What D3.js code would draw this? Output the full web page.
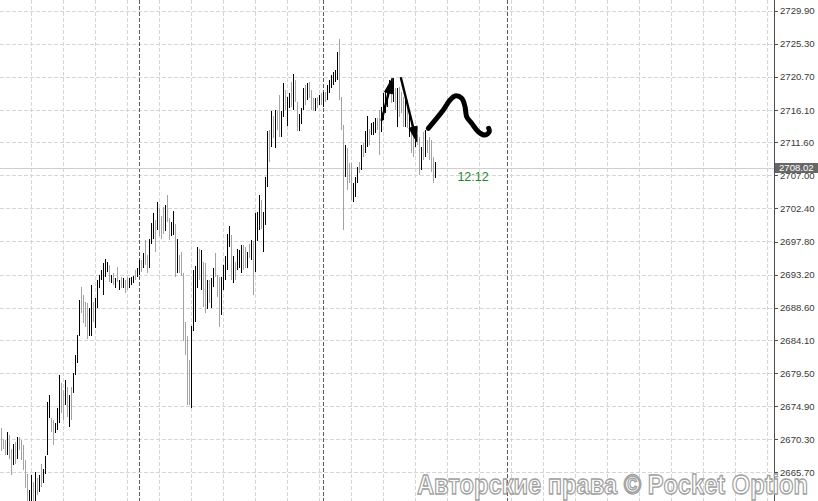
<!DOCTYPE html>
<html>
<head>
<meta charset="utf-8">
<script src="https://cdn.jsdelivr.net/npm/d3@7"></script>
<style>
html,body{margin:0;padding:0;background:#fff;overflow:hidden;}
svg{display:block;}
</style>
</head>
<body>
<script>
// ---- data (M15 bars: high, low, direction 1=up/black 0=down/gray) ----
const highs = [
2671.8,2670.4,2670.2,2671.3,2670.9,2669.0,2669.6,2669.9,2670.6,2670.6,
2670.2,2669.5,2667.4,2665.5,2663.2,2665.3,2664.4,2665.8,2664.9,2665.3,
2666.9,2666.2,2667.9,2675.5,2676.4,2673.2,2673.0,2672.5,2674.6,2679.2,
2678.1,2677.1,2678.5,2677.6,2676.4,2677.6,2679.5,2682.0,2684.8,2689.7,
2691.5,2690.4,2689.4,2689.2,2688.5,2691.7,2689.4,2689.9,2692.4,2693.1,
2693.8,2694.8,2695.3,2695.0,2694.5,2693.1,2693.4,2692.7,2694.3,2692.4,
2692.9,2692.7,2692.4,2692.9,2692.7,2692.9,2693.0,2693.8,2694.1,2695.2,
2695.2,2696.2,2698.0,2695.9,2698.2,2700.4,2701.7,2700.8,2703.3,2702.4,
2701.3,2702.6,2702.9,2704.3,2701.1,2700.5,2702.0,2700.3,2698.2,2695.9,
2696.4,2693.4,2686.6,2684.6,2681.3,2686.0,2693.8,2694.4,2697.1,2696.8,
2696.6,2695.0,2694.8,2692.5,2692.4,2692.7,2694.1,2696.2,2693.1,2692.9,
2692.9,2694.5,2695.8,2698.9,2699.9,2698.7,2695.8,2695.0,2696.8,2696.6,
2697.3,2697.3,2697.1,2696.4,2697.5,2698.0,2697.8,2701.7,2701.9,2704.3,
2703.6,2701.9,2706.8,2713.2,2713.3,2715.9,2715.2,2716.1,2716.0,2718.2,
2715.9,2719.9,2718.9,2717.9,2718.5,2720.0,2721.1,2720.3,2717.2,2715.6,
2716.3,2719.1,2719.6,2719.8,2720.0,2718.9,2717.7,2717.7,2717.9,2718.2,
2718.4,2718.6,2718.6,2719.6,2720.3,2721.0,2721.4,2721.7,2724.2,2725.9,
2717.9,2714.0,2711.2,2710.8,2708.7,2708.7,2705.9,2706.8,2708.2,2708.9,
2711.2,2711.5,2713.1,2715.2,2713.5,2714.3,2714.4,2715.0,2715.0,2716.1,
2716.5,2718.4,2718.9,2719.3,2720.3,2720.5,2720.5,2719.1,2719.1,2719.3,
2718.6,2717.9,2717.5,2717.5,2715.4,2714.3,2713.7,2712.9,2712.6,2712.3,
2710.9,2713.0,2713.3,2711.9,2712.3,2711.9,2709.5,2708.9
];
const lows = [
2668.6,2669.0,2668.1,2668.1,2667.6,2665.3,2666.7,2666.9,2667.6,2668.8,
2667.4,2666.0,2663.5,2661.5,2661.5,2661.5,2661.5,2661.5,2662.5,2663.0,
2663.7,2664.2,2665.5,2668.1,2673.2,2671.3,2669.5,2671.1,2671.6,2672.5,
2673.9,2673.0,2675.1,2673.4,2672.0,2673.0,2676.7,2679.2,2680.9,2684.6,
2687.8,2686.4,2685.9,2684.3,2684.6,2684.6,2686.6,2685.7,2688.5,2691.3,
2692.4,2690.4,2692.9,2693.6,2692.2,2692.0,2691.7,2691.3,2692.2,2691.1,
2691.3,2691.3,2690.6,2691.1,2691.3,2691.7,2692.0,2692.4,2692.9,2693.1,
2693.6,2694.1,2694.5,2693.4,2694.1,2697.5,2698.2,2696.4,2699.4,2698.5,
2698.1,2698.9,2699.2,2700.5,2698.0,2698.5,2698.7,2692.8,2693.4,2693.4,
2693.0,2683.9,2682.0,2675.1,2675.1,2674.6,2685.3,2686.6,2691.3,2692.4,
2691.1,2688.7,2687.8,2688.4,2689.2,2688.5,2691.5,2692.9,2690.1,2685.9,
2687.6,2691.1,2692.4,2693.8,2697.1,2692.4,2692.0,2692.4,2693.8,2694.1,
2693.4,2693.8,2694.1,2694.1,2695.5,2695.2,2690.4,2693.6,2697.8,2699.4,
2699.6,2696.4,2700.1,2705.4,2708.9,2711.0,2712.2,2710.8,2713.3,2712.4,
2712.4,2715.1,2716.1,2713.8,2716.3,2716.5,2716.1,2717.2,2713.1,2713.1,
2714.2,2716.1,2716.8,2717.5,2717.7,2716.1,2716.1,2715.9,2716.3,2716.8,
2716.8,2716.5,2717.2,2717.5,2718.4,2719.1,2719.6,2720.0,2720.3,2717.5,
2713.3,2699.4,2706.8,2705.0,2705.9,2703.6,2703.3,2704.0,2705.9,2707.3,
2707.7,2709.6,2710.1,2711.0,2711.2,2712.6,2712.6,2712.9,2713.3,2709.8,
2713.0,2714.7,2715.7,2716.5,2718.6,2717.1,2717.2,2716.1,2713.7,2715.1,
2715.7,2713.7,2713.7,2713.6,2712.3,2710.1,2709.5,2710.9,2711.2,2707.0,
2707.7,2709.1,2709.5,2710.1,2709.1,2707.5,2705.9,2706.6
];
const direction = [
0,0,0,1,0,0,1,0,1,0, 0,0,0,0,1,1,0,1,0,1, 0,1,1,1,1,0,0,1,1,1,
0,0,1,0,1,0,1,1,1,1, 0,0,0,0,1,1,0,1,1,1, 1,1,1,1,0,1,0,1,0,1,
0,1,0,0,1,1,1,0,1,1, 0,1,0,0,1,1,1,0,1,0, 0,0,1,0,0,1,1,0,1,0,
0,0,0,0,0,1,1,1,1,0, 1,0,0,1,0,1,1,0,0,0, 1,1,1,1,1,0,1,0,1,1,
1,0,0,1,0,1,0,1,1,1, 0,1,1,1,0,1,0,1,0,0, 1,1,0,1,1,0,1,0,0,1,
1,1,0,1,0,0,0,1,0,1, 0,1,0,1,1,1,1,1,1,0, 0,0,1,0,0,0,1,1,1,0,
1,0,1,1,0,1,1,1,0,0, 1,1,1,1,1,0,1,0,1,0, 0,0,1,0,1,0,0,1,0,0,
1,0,1,0,0,0,0,1
];
const priceTicks = ["2729.90","2725.30","2720.70","2716.10","2711.60","2707.00","2702.40",
  "2697.80","2693.20","2688.60","2684.10","2679.50","2674.90","2670.30","2665.70"];
const currentPrice = 2708.02;
const timerLabel = "12:12";
const gridEvery = 16, gridFirst = 15;          // time grid every 16 bars (4h)
const daySeparators = [69, 161, 253];           // bar indexes of day starts
const watermark = "Авторские права © Pocket Option";
// hand-drawn annotations, in (bar index, price)
const arrowUp = [[190.35, 2714.7], [195.65, 2720.5]];
const arrowDown = [[200.0, 2720.5], [207.85, 2711.68]];
const squiggle = [[213.65,2713.54],[221.15,2716.09],[224.5,2717.48],[227,2718.04],[230.35,2717.72],
  [232,2716.55],[232.85,2715.16],[235.35,2714.24],[238.65,2713.07],[242,2712.61],[244.15,2713.07],[243.85,2713.54]];

// ---- drawing ----
const W = 818, H = 501, axisX = 774;
const svg = d3.select("body").append("svg").attr("width", W).attr("height", H);
svg.append("rect").attr("width", W).attr("height", H).attr("fill", "#fff");

const y = d3.scaleLinear().domain([2665.70, 2729.90]).range([472.3, 10.7]);
const x = d3.scaleLinear().domain([0, highs.length - 1]).range([1, 1 + 2 * (highs.length - 1)]);

// grid
const g = svg.append("g").attr("shape-rendering", "crispEdges");
priceTicks.forEach(t => {
  const yy = Math.round(y(+t)) + 0.5;
  g.append("line").attr("x1", 0).attr("x2", axisX).attr("y1", yy).attr("y2", yy)
    .attr("stroke", "#d6d6d6").attr("stroke-dasharray", "4,2");
});
for (let k = gridFirst; x(k) < axisX; k += gridEvery) {
  const xx = Math.round(x(k)) + 0.5;
  g.append("line").attr("x1", xx).attr("x2", xx).attr("y1", 0).attr("y2", H)
    .attr("stroke", "#d6d6d6").attr("stroke-dasharray", "4,2");
}
daySeparators.forEach(k => {
  const xx = Math.round(x(k)) + 0.5;
  g.append("line").attr("x1", xx).attr("x2", xx).attr("y1", 0).attr("y2", H)
    .attr("stroke", "#5a5a5a").attr("stroke-dasharray", "4,2");
});

// current price line
const py = Math.round(y(currentPrice)) + 0.5;
g.append("line").attr("x1", 0).attr("x2", axisX).attr("y1", py).attr("y2", py).attr("stroke", "#cfcfcf");

// bars
svg.append("g").attr("shape-rendering", "crispEdges")
  .selectAll("rect").data(highs.map((h, i) => ({h, l: lows[i], d: direction[i], i})))
  .join("rect")
  .attr("x", d => Math.round(x(d.i)))
  .attr("width", 1)
  .attr("y", d => Math.round(y(d.h)))
  .attr("height", d => Math.max(1, Math.round(y(d.l)) - Math.round(y(d.h))))
  .attr("fill", d => d.d ? "#000" : "#a3a3a3");

// annotations
const ann = svg.append("g");
const line = d3.line().x(d => x(d[0])).y(d => y(d[1]));
function arrow(pts) {
  const [a, b] = pts.map(p => [x(p[0]), y(p[1])]);
  const dx = b[0] - a[0], dy = b[1] - a[1], len = Math.hypot(dx, dy);
  const ux = dx / len, uy = dy / len, hl = 15, hw = 4.2;
  const bx = b[0] - ux * hl, by = b[1] - uy * hl;
  ann.append("line").attr("x1", a[0]).attr("y1", a[1]).attr("x2", bx + ux * 3).attr("y2", by + uy * 3)
    .attr("stroke", "#000").attr("stroke-width", 2.4).attr("stroke-linecap", "round");
  ann.append("path").attr("d", `M${b[0]},${b[1]}L${bx - uy * hw},${by + ux * hw}L${bx + uy * hw},${by - ux * hw}Z`)
    .attr("fill", "#000").attr("stroke", "#000").attr("stroke-width", 1).attr("stroke-linejoin", "round");
}
arrow(arrowUp);
arrow(arrowDown);
ann.append("path").attr("d", line.curve(d3.curveCatmullRom)(squiggle))
  .attr("fill", "none").attr("stroke", "#000").attr("stroke-width", 5)
  .attr("stroke-linecap", "round").attr("stroke-linejoin", "round");

// timer label
svg.append("text").attr("x", x(highs.length - 1 + 11.2)).attr("y", y(currentPrice) + 13)
  .attr("font-family", "Liberation Sans, Arial, sans-serif").attr("font-size", 12.5)
  .attr("fill", "#258a25").text(timerLabel);

// right axis
svg.append("line").attr("x1", axisX + 0.5).attr("x2", axisX + 0.5).attr("y1", 0).attr("y2", H)
  .attr("stroke", "#505050").attr("shape-rendering", "crispEdges");
const axis = d3.axisRight(y).tickValues(priceTicks.map(Number)).tickSize(3).tickPadding(2)
  .tickFormat((d, i) => priceTicks[i]);
const ag = svg.append("g").attr("transform", `translate(${axisX + 1},0)`).call(axis);
ag.select(".domain").remove();
ag.selectAll(".tick line").attr("stroke", "#505050").attr("shape-rendering", "crispEdges");
ag.selectAll(".tick text").attr("font-family", "Liberation Sans, Arial, sans-serif")
  .attr("font-size", 9.6).attr("fill", "#3a3a3a");

// current price box
const cy = y(currentPrice);
svg.append("rect").attr("x", axisX + 1).attr("y", Math.round(cy) - 5).attr("width", W - axisX - 1).attr("height", 10)
  .attr("fill", "#676767").attr("shape-rendering", "crispEdges");
svg.append("text").attr("x", axisX + 5).attr("y", cy).attr("dy", "0.34em")
  .attr("font-family", "Liberation Sans, Arial, sans-serif").attr("font-size", 9.6)
  .attr("fill", "#fff").text(currentPrice.toFixed(2));

// watermark
svg.append("text").attr("x", 417).attr("y", 494)
  .attr("font-family", "Liberation Sans, Arial, sans-serif").attr("font-size", 27)
  .attr("font-weight", "bold")
  .attr("textLength", 391).attr("lengthAdjust", "spacingAndGlyphs")
  .attr("fill", "#fff").attr("stroke", "#a0a0a0").attr("stroke-width", 1.3)
  .text(watermark);
</script>
</body>
</html>
